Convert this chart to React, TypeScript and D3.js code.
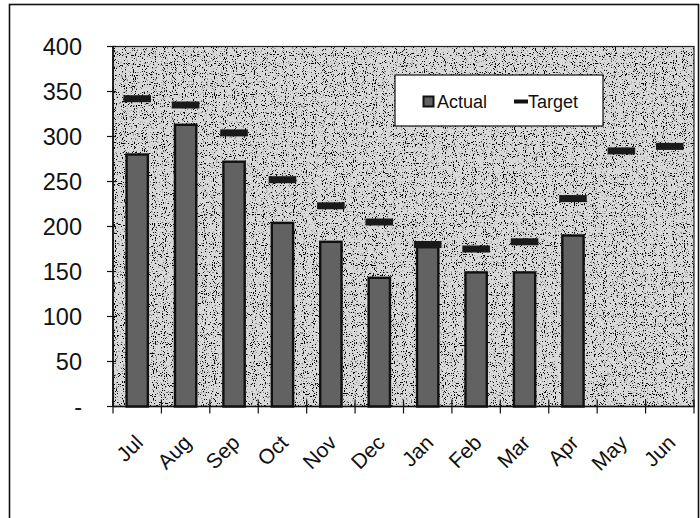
import React from "react";
import * as d3 from "d3";

const months = ["Jul", "Aug", "Sep", "Oct", "Nov", "Dec", "Jan", "Feb", "Mar", "Apr", "May", "Jun"];
const actual: (number | null)[] = [280, 313, 272, 204, 183, 143, 177, 149, 149, 190, null, null];
const target: number[] = [342, 335, 304, 252, 223, 205, 180, 175, 183, 231, 284, 289];
const yTicks = [0, 50, 100, 150, 200, 250, 300, 350, 400];

const W = 700;
const H = 518;
const plot = { left: 113, right: 694, top: 46.5, bottom: 406.5 };
const FONT = "'Liberation Sans', Arial, sans-serif";

export default function App() {
  const x = d3.scaleBand<string>().domain(months).range([plot.left, plot.right]).padding(0);
  const y = d3.scaleLinear().domain([0, 400]).range([plot.bottom, plot.top]);
  const bw = x.bandwidth();
  const barW = bw * 0.44;
  const markW = bw * 0.57;
  const markH = 7;
  const boundaries = d3.range(months.length + 1).map((i) => plot.left + i * bw);

  return (
    <svg width={W} height={H} style={{ position: "absolute", left: 0, top: 0, background: "#fff" }} fontFamily={FONT}>
      <defs>
        <filter id="speck" x="0" y="0" width="100%" height="100%">
          <feTurbulence type="fractalNoise" baseFrequency="0.9" numOctaves="1" seed="3" result="n" />
          <feColorMatrix in="n" type="matrix" values="0 0 0 0 0  0 0 0 0 0  0 0 0 0 0  -14 0 0 0 5.9" result="dots" />
          <feComposite in="dots" in2="SourceGraphic" operator="in" result="d2" />
          <feMerge>
            <feMergeNode in="SourceGraphic" />
            <feMergeNode in="d2" />
          </feMerge>
        </filter>
      </defs>
      {/* outer border */}
      <rect x={9.5} y={4.5} width={689} height={520} fill="#fff" stroke="#111" strokeWidth={1.6} />
      {/* plot area */}
      <rect
        x={plot.left}
        y={plot.top}
        width={plot.right - plot.left}
        height={plot.bottom - plot.top}
        fill="#d9d9d9"
        filter="url(#speck)"
      />
      <rect
        x={plot.left}
        y={plot.top}
        width={plot.right - plot.left}
        height={plot.bottom - plot.top}
        fill="none"
        stroke="#222"
        strokeWidth={1.2}
      />
      {/* bars */}
      {months.map((m, i) =>
        actual[i] == null ? null : (
          <rect
            key={"b" + m}
            x={(x(m) as number) + (bw - barW) / 2}
            y={y(actual[i] as number)}
            width={barW}
            height={plot.bottom - y(actual[i] as number)}
            fill="#626262"
            stroke="#111"
            strokeWidth={2.4}
          />
        )
      )}
      {/* target markers */}
      {months.map((m, i) => (
        <rect
          key={"t" + m}
          x={(x(m) as number) + (bw - markW) / 2}
          y={y(target[i]) - markH / 2}
          width={markW}
          height={markH}
          fill="#1a1a1a"
        />
      ))}
      {/* y axis */}
      <line x1={plot.left} x2={plot.left} y1={plot.top} y2={plot.bottom} stroke="#111" strokeWidth={1.6} />
      {yTicks.map((t) => (
        <g key={"y" + t}>
          <line x1={plot.left - 6} x2={plot.left + 3} y1={y(t)} y2={y(t)} stroke="#111" strokeWidth={1.2} />
          <text x={82} y={y(t)} dy="0.36em" textAnchor="end" fontSize={23.5} fill="#111">
            {t === 0 ? "-" : String(t)}
          </text>
        </g>
      ))}
      {/* x axis */}
      <line x1={plot.left} x2={plot.right} y1={plot.bottom} y2={plot.bottom} stroke="#111" strokeWidth={1.6} />
      {boundaries.map((bx, i) => (
        <line key={"xt" + i} x1={bx} x2={bx} y1={plot.bottom - 7} y2={plot.bottom + 7} stroke="#111" strokeWidth={1.2} />
      ))}
      {months.map((m) => {
        const cx = (x(m) as number) + bw / 2 + 7;
        const cy = 444;
        return (
          <text key={"xl" + m} x={cx} y={cy} textAnchor="end" fontSize={21} fill="#111" transform={`rotate(-45 ${cx} ${cy})`}>
            {m}
          </text>
        );
      })}
      {/* legend */}
      <g>
        <rect x={395} y={75} width={208} height={51} fill="#fff" stroke="#111" strokeWidth={1.2} />
        <rect x={423.5} y={96.5} width={10} height={10} fill="#626262" stroke="#111" strokeWidth={2} />
        <text x={437} y={108} fontSize={18} fill="#111">Actual</text>
        <rect x={514} y={99.5} width={14} height={4} fill="#111" />
        <text x={528} y={108} fontSize={18} fill="#111">Target</text>
      </g>
    </svg>
  );
}
